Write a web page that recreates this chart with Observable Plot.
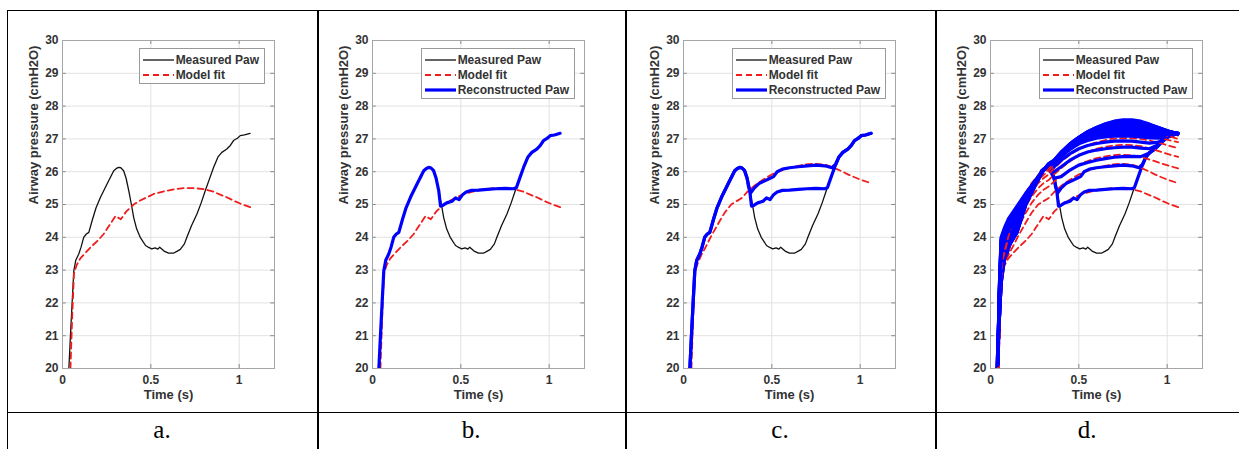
<!DOCTYPE html>
<html><head><meta charset="utf-8">
<script src="https://cdn.jsdelivr.net/npm/d3@7"></script>
<script src="https://cdn.jsdelivr.net/npm/@observablehq/plot@0.6"></script>
<style>
html,body{margin:0;padding:0;background:#fff;width:1239px;height:449px;overflow:hidden;}
#root{position:relative;width:1239px;height:449px;}
.ln{position:absolute;background:#000;}
.panel{position:absolute;top:0;}
.lab{position:absolute;top:414px;height:32px;line-height:32px;font-family:"Liberation Serif","Times New Roman",serif;font-size:25px;color:#000;text-align:center;}
.legend{position:absolute;top:48px;border:1px solid #9a9a9a;background:#fff;font-family:"Liberation Sans",Arial,sans-serif;font-weight:bold;font-size:12px;color:#333;padding:3px 5px 1px 3px;}
.legend .row{display:flex;align-items:center;height:15px;white-space:nowrap;}
.legend svg{margin-right:2px;}
</style></head><body><div id="root"></div>
<script>
// ---------- data ----------
const xTicks = [0, 0.5, 1];
const yTicks = [20, 21, 22, 23, 24, 25, 26, 27, 28, 29, 30];
const panelLabels = ["a.", "b.", "c.", "d."];
const seriesNames = ["Measured Paw", "Model fit", "Reconstructed Paw"];
const xTitle = "Time (s)";
const yTitle = "Airway pressure (cmH2O)";

// measured airway pressure
const measT = [0.036,0.045,0.055,0.064,0.075,0.092,0.105,0.12,0.135,0.149,0.17,0.19,0.215,0.25,0.29,0.305,0.318,0.33,0.346,0.36,0.375,0.39,0.403,0.42,0.44,0.47,0.488,0.505,0.524,0.54,0.55,0.575,0.6,0.63,0.65,0.667,0.69,0.704,0.73,0.761,0.785,0.808,0.83,0.855,0.88,0.902,0.93,0.95,0.968,0.99,1.006,1.03,1.062];
const measP = [20.0,21.0,22.06,22.98,23.3,23.49,23.7,24.0,24.1,24.15,24.55,24.9,25.22,25.6,26.03,26.1,26.13,26.12,26.03,25.8,25.42,25.0,24.6,24.25,24.0,23.75,23.69,23.65,23.68,23.64,23.7,23.58,23.52,23.52,23.58,23.63,23.8,24.0,24.35,24.71,25.05,25.42,25.75,26.13,26.45,26.59,26.69,26.8,26.95,27.02,27.1,27.12,27.17];

// model fits (common time base)
const fitT = [0.045,0.055,0.065,0.08,0.1,0.125,0.158,0.2,0.233,0.27,0.3,0.33,0.36,0.403,0.44,0.478,0.52,0.59,0.64,0.685,0.74,0.8,0.85,0.893,0.93,0.968,1.01,1.062];
const fit1 = [20.0,21.6,22.9,23.15,23.35,23.5,23.69,23.9,24.1,24.4,24.65,24.55,24.78,25.0,25.12,25.22,25.33,25.42,25.47,25.5,25.5,25.47,25.4,25.3,25.22,25.12,25.02,24.92];
const fit2 = [20.0,21.7,22.95,23.2,23.45,23.7,24.05,24.45,24.75,25.0,25.1,25.2,25.38,25.58,25.72,25.85,25.97,26.1,26.17,26.22,26.24,26.22,26.12,26.02,25.92,25.83,25.74,25.65];
const fit3 = [20.0,21.8,23.0,23.3,23.6,23.9,24.3,24.75,25.05,25.3,25.45,25.55,25.7,25.88,26.02,26.15,26.27,26.4,26.46,26.5,26.52,26.5,26.45,26.38,26.32,26.25,26.18,26.1];
const fit4 = [20.0,21.9,23.05,23.35,23.7,24.05,24.5,24.95,25.25,25.5,25.65,25.75,25.92,26.12,26.28,26.42,26.55,26.68,26.75,26.79,26.82,26.81,26.78,26.72,26.66,26.6,26.53,26.45];
const fit5 = [20.0,22.0,23.1,23.45,23.8,24.2,24.65,25.1,25.4,25.65,25.8,25.92,26.1,26.32,26.48,26.62,26.75,26.88,26.95,27.0,27.02,27.02,27.0,26.96,26.91,26.86,26.79,26.72];
const fit6 = [20.0,22.1,23.15,23.5,23.9,24.3,24.75,25.2,25.5,25.75,25.9,26.02,26.22,26.45,26.62,26.78,26.92,27.05,27.11,27.15,27.18,27.18,27.16,27.12,27.07,27.02,26.96,26.9];
const fit7 = [20.0,22.2,23.2,23.55,23.95,24.38,24.82,25.28,25.58,25.83,25.97,26.1,26.3,26.55,26.73,26.9,27.04,27.18,27.24,27.27,27.3,27.3,27.28,27.24,27.2,27.15,27.08,27.0];
const fit8 = [20.0,22.3,23.25,23.6,24.0,24.45,24.9,25.35,25.65,25.9,26.03,26.17,26.38,26.63,26.82,26.99,27.14,27.28,27.35,27.38,27.41,27.41,27.39,27.36,27.31,27.25,27.18,27.1];

// reconstructed pressure, first two reconstructions
const rec1T = [0.036,0.045,0.055,0.064,0.075,0.092,0.105,0.12,0.135,0.149,0.17,0.19,0.215,0.25,0.29,0.305,0.318,0.33,0.346,0.36,0.375,0.385,0.40,0.42,0.45,0.47,0.49,0.51,0.53,0.56,0.6,0.65,0.7,0.75,0.8,0.815,0.83,0.855,0.88,0.902,0.93,0.95,0.968,0.99,1.006,1.03,1.062];
const rec1 = [20.0,21.0,22.06,22.98,23.3,23.49,23.7,24.0,24.1,24.15,24.55,24.9,25.22,25.6,26.03,26.1,26.13,26.12,26.03,25.8,25.42,24.95,24.98,25.05,25.1,25.2,25.15,25.3,25.38,25.43,25.44,25.46,25.48,25.49,25.48,25.52,25.75,26.13,26.45,26.59,26.69,26.8,26.95,27.02,27.1,27.12,27.17];
const rec2T = [0.036,0.045,0.055,0.064,0.075,0.092,0.105,0.12,0.135,0.149,0.17,0.19,0.215,0.25,0.29,0.305,0.318,0.33,0.346,0.36,0.368,0.38,0.40,0.43,0.46,0.49,0.51,0.53,0.56,0.6,0.65,0.7,0.75,0.8,0.84,0.86,0.88,0.902,0.93,0.95,0.968,0.99,1.006,1.03,1.062];
const rec2 = [20.0,21.0,22.06,22.98,23.3,23.49,23.7,24.0,24.1,24.15,24.55,24.9,25.22,25.6,26.03,26.1,26.13,26.12,26.03,25.8,25.55,25.35,25.5,25.65,25.72,25.8,25.85,26.0,26.08,26.12,26.15,26.18,26.2,26.18,26.12,26.22,26.45,26.59,26.69,26.8,26.95,27.02,27.1,27.12,27.17];

// further reconstructions (panel d), common time base
const recT = [0.04,0.05,0.06,0.08,0.1,0.15,0.2,0.25,0.3,0.33,0.36,0.4,0.45,0.5,0.55,0.6,0.65,0.7,0.75,0.8,0.85,0.9,0.95,1.0,1.06];
const rec3  = [20.1,21.5,22.6,23.4,23.7,24.15,25.0,25.55,26.05,26.1,25.8,25.85,26.05,26.2,26.28,26.35,26.4,26.44,26.46,26.47,26.46,26.57,26.8,27.05,27.17];
const rec4  = [20.1,21.5,22.6,23.4,23.7,24.15,25.0,25.55,26.05,26.12,26.0,26.15,26.35,26.5,26.6,26.66,26.7,26.73,26.75,26.75,26.72,26.7,26.82,27.05,27.17];
const rec5  = [20.1,21.5,22.6,23.4,23.7,24.15,25.0,25.55,26.05,26.15,26.15,26.35,26.55,26.7,26.8,26.86,26.9,26.93,26.94,26.93,26.9,26.87,26.9,27.05,27.17];
const rec6  = [20.1,21.8,23.0,23.6,23.85,24.3,25.05,25.6,26.05,26.18,26.25,26.45,26.68,26.85,26.95,27.02,27.06,27.08,27.09,27.08,27.06,27.03,27.02,27.08,27.17];
const rec7  = [20.1,21.9,23.15,23.7,23.92,24.38,25.08,25.6,26.05,26.19,26.27,26.48,26.71,26.89,27.0,27.08,27.12,27.14,27.15,27.14,27.12,27.09,27.07,27.11,27.17];
const rec8  = [20.1,22.0,23.3,23.8,24.0,24.45,25.1,25.6,26.05,26.2,26.28,26.5,26.74,26.93,27.05,27.13,27.18,27.2,27.21,27.2,27.18,27.15,27.13,27.14,27.17];
const rec9  = [20.1,22.1,23.45,23.9,24.1,24.52,25.15,25.62,26.05,26.21,26.29,26.52,26.76,26.96,27.09,27.18,27.23,27.26,27.27,27.26,27.24,27.2,27.17,27.16,27.17];
const rec10 = [20.1,22.2,23.6,24.0,24.2,24.6,25.2,25.65,26.05,26.22,26.3,26.53,26.78,26.98,27.12,27.22,27.28,27.31,27.33,27.32,27.3,27.26,27.22,27.19,27.17];
const rec11 = [20.1,22.25,23.7,24.08,24.28,24.68,25.22,25.66,26.05,26.22,26.31,26.55,26.8,27.0,27.15,27.26,27.33,27.36,27.38,27.37,27.35,27.3,27.25,27.21,27.17];
const rec12 = [20.1,22.3,23.8,24.15,24.35,24.75,25.25,25.68,26.05,26.23,26.32,26.56,26.82,27.02,27.18,27.3,27.37,27.41,27.43,27.42,27.4,27.35,27.29,27.23,27.17];
const rec13 = [20.1,22.35,23.85,24.2,24.4,24.8,25.28,25.69,26.05,26.23,26.33,26.57,26.83,27.03,27.2,27.32,27.4,27.45,27.47,27.46,27.44,27.39,27.31,27.24,27.16];
const rec14 = [20.1,22.4,23.9,24.25,24.45,24.85,25.3,25.7,26.05,26.24,26.34,26.58,26.84,27.04,27.21,27.34,27.43,27.49,27.51,27.51,27.48,27.42,27.34,27.25,27.16];
const rec15 = [20.1,22.45,23.95,24.28,24.5,24.9,25.32,25.7,26.05,26.24,26.35,26.59,26.85,27.05,27.22,27.35,27.45,27.52,27.55,27.55,27.51,27.44,27.35,27.25,27.15];
const rec16 = [20.1,22.5,24.0,24.3,24.55,24.95,25.35,25.7,26.05,26.25,26.35,26.6,26.85,27.05,27.22,27.35,27.46,27.54,27.58,27.58,27.54,27.45,27.35,27.25,27.15];

// ---------- helpers ----------
const pts = (T, V) => T.map((t, i) => ({t, p: V[i]}));
const measured = pts(measT, measP);
const fits = [fit1, fit2, fit3, fit4, fit5, fit6, fit7, fit8].map(v => pts(fitT, v));
const recs = [pts(rec1T, rec1), pts(rec2T, rec2),
  ...[rec3, rec4, rec5, rec6, rec7, rec8, rec9, rec10, rec11, rec12, rec13, rec14, rec15, rec16].map(v => pts(recT, v))];
// which reconstruction each fit is drawn just before (panel d)
const fitBefore = [0, 1, 2, 3, 4, 5, 7, 9];

const BLACK = "#111", RED = "#f01c1c", BLUE = "#0000ff";
const lineM = d => Plot.line(d, {x: "t", y: "p", stroke: BLACK, strokeWidth: 1.3, clip: true});
const lineF = d => Plot.line(d, {x: "t", y: "p", stroke: RED, strokeWidth: 1.8, strokeDasharray: "6,4", clip: true});
const lineR = d => Plot.line(d, {x: "t", y: "p", stroke: BLUE, strokeWidth: 3.2, strokeLinejoin: "round", clip: true});

const axisLefts = [62, 372, 683, 990];
const cellEdges = [7, 317, 625, 935, 1239];
const W = 212, mL = 54, mR = 10, mT = 40, mB = 44, H = 412;
const root = document.getElementById("root");

function drawPanel(i, seriesMarks, legendCount) {
  const chart = Plot.plot({
    width: mL + W + mR, height: H,
    marginLeft: mL, marginRight: mR, marginTop: mT, marginBottom: mB,
    x: {domain: [0, 1.2]},
    y: {domain: [20, 30]},
    style: {fontFamily: "'Liberation Sans', Arial, sans-serif", fontWeight: "bold", fontSize: "12px", color: "#333", background: "transparent", overflow: "visible"},
    marks: [
      Plot.gridX(xTicks, {stroke: "#e2e2e2", strokeOpacity: 1}),
      Plot.gridY(yTicks, {stroke: "#e2e2e2", strokeOpacity: 1}),
      Plot.ruleX(xTicks, {x: d => d, y1: 20, y2: 20.12, stroke: "#888"}),
      Plot.ruleX(xTicks, {x: d => d, y1: 29.88, y2: 30, stroke: "#888"}),
      Plot.ruleY(yTicks, {y: d => d, x1: 0, x2: 0.021, stroke: "#888"}),
      Plot.ruleY(yTicks, {y: d => d, x1: 1.179, x2: 1.2, stroke: "#888"}),
      Plot.frame({stroke: "#a6a6a6"}),
      Plot.axisX({ticks: xTicks, tickSize: 0, tickPadding: 7, tickFormat: d => String(d), label: null, fontSize: 12, fill: "#333"}),
      Plot.axisY({ticks: yTicks, tickSize: 0, tickPadding: 4, tickFormat: d => String(d), label: null, fontSize: 12, fill: "#333"}),
      Plot.text([xTitle], {frameAnchor: "bottom", dy: 30, fontSize: 13, fontWeight: "bold", fill: "#333"}),
      Plot.text([yTitle], {frameAnchor: "left", rotate: -90, dx: -29, fontSize: 13, fontWeight: "bold", fill: "#333"}),
      ...seriesMarks
    ]
  });
  const wrap = document.createElement("div");
  wrap.className = "panel";
  wrap.style.left = (axisLefts[i] - mL) + "px";
  wrap.appendChild(chart);
  root.appendChild(wrap);

  // legend
  const lg = document.createElement("div");
  lg.className = "legend";
  lg.style.right = (1239 - (axisLefts[i] + W - 9)) + "px";
  const samples = [
    `<line x1="0" y1="4" x2="31" y2="4" stroke="${BLACK}" stroke-width="1.3"/>`,
    `<line x1="0" y1="4" x2="31" y2="4" stroke="${RED}" stroke-width="1.8" stroke-dasharray="6,4"/>`,
    `<line x1="0" y1="4" x2="31" y2="4" stroke="${BLUE}" stroke-width="3.2"/>`
  ];
  for (let k = 0; k < legendCount; k++) {
    const row = document.createElement("div");
    row.className = "row";
    row.innerHTML = `<svg width="31" height="8">${samples[k]}</svg><span>${seriesNames[k]}</span>`;
    lg.appendChild(row);
  }
  root.appendChild(lg);

  const lab = document.createElement("div");
  lab.className = "lab";
  lab.style.left = cellEdges[i] + "px";
  lab.style.width = (cellEdges[i + 1] - cellEdges[i]) + "px";
  lab.textContent = panelLabels[i];
  root.appendChild(lab);
}

drawPanel(0, [lineM(measured), lineF(fits[0])], 2);
drawPanel(1, [lineM(measured), lineF(fits[0]), lineR(recs[0])], 3);
drawPanel(2, [lineM(measured), lineF(fits[1]), lineR(recs[0]), lineR(recs[1])], 3);
const dMarks = [lineM(measured)];
for (let k = 0; k < recs.length; k++) {
  fitBefore.forEach((r, f) => { if (r === k) dMarks.push(lineF(fits[f])); });
  dMarks.push(lineR(recs[k]));
}
drawPanel(3, dMarks, 3);

// table rules
function rule(x, y, w, h) {
  const d = document.createElement("div");
  d.className = "ln";
  Object.assign(d.style, {left: x + "px", top: y + "px", width: w + "px", height: h + "px"});
  root.appendChild(d);
}
rule(7, 10, 1232, 1);
rule(7, 412, 1232, 1);
rule(7, 10, 1, 439);
rule(317, 10, 2, 439);
rule(625, 10, 2, 439);
rule(935, 10, 2, 439);
</script></body></html>
